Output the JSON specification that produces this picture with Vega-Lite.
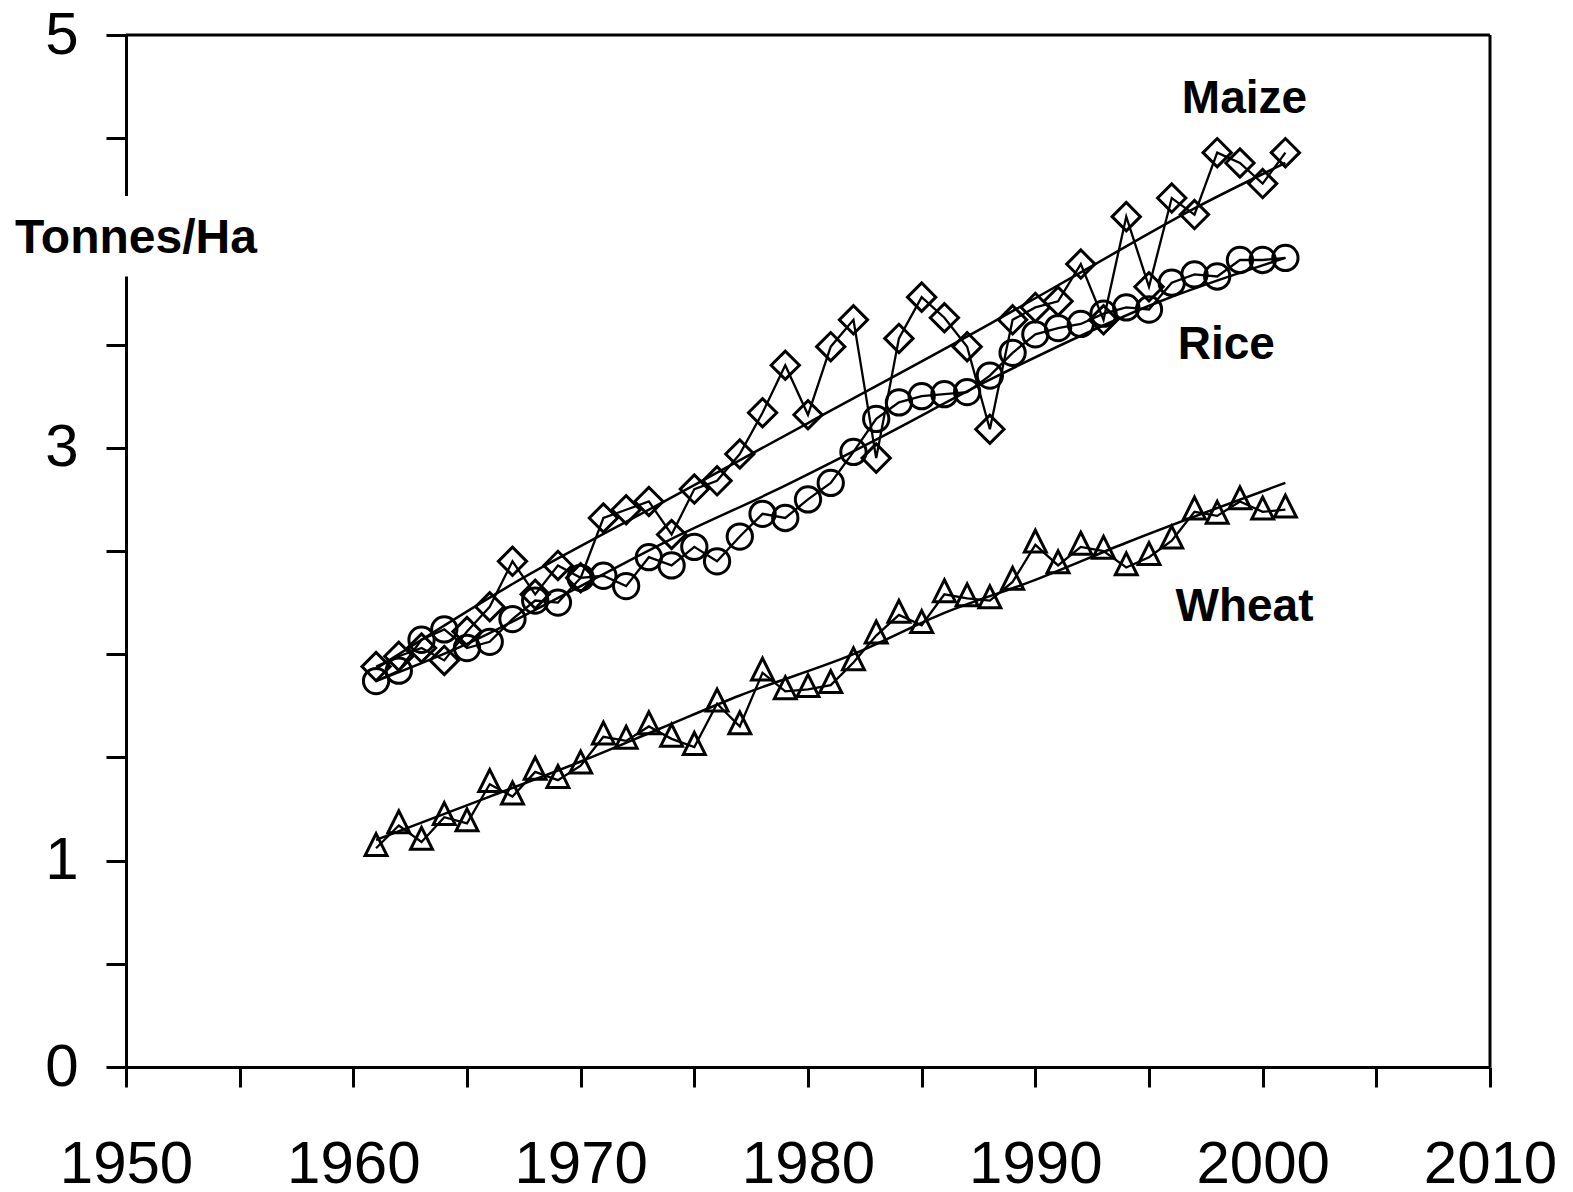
{
  "$schema": "https://vega.github.io/schema/vega-lite/v6.json",
  "autosize": {"type": "none"},
  "padding": {"left": 126, "top": 35, "right": 83, "bottom": 125},
  "width": 1364,
  "height": 1032,
  "background": "white",
  "config": {
    "view": {"stroke": null},
    "font": "Liberation Sans",
    "axis": {
      "grid": false,
      "domainColor": "black",
      "domainWidth": 3,
      "tickColor": "black",
      "tickWidth": 3,
      "tickSize": 20,
      "labelColor": "black",
      "labelFont": "Liberation Sans",
      "labelFontSize": 60,
      "labelOverlap": false,
      "labelFlush": false,
      "labelBound": false,
      "title": null,
      "zindex": 0
    }
  },
  "datasets": {
    "yields": [
      {"crop": "Maize", "year": 1961, "t": 1.94},
      {"crop": "Maize", "year": 1962, "t": 1.99},
      {"crop": "Maize", "year": 1963, "t": 2.03},
      {"crop": "Maize", "year": 1964, "t": 1.97},
      {"crop": "Maize", "year": 1965, "t": 2.11},
      {"crop": "Maize", "year": 1966, "t": 2.23},
      {"crop": "Maize", "year": 1967, "t": 2.45},
      {"crop": "Maize", "year": 1968, "t": 2.29},
      {"crop": "Maize", "year": 1969, "t": 2.43},
      {"crop": "Maize", "year": 1970, "t": 2.37},
      {"crop": "Maize", "year": 1971, "t": 2.66},
      {"crop": "Maize", "year": 1972, "t": 2.70},
      {"crop": "Maize", "year": 1973, "t": 2.74},
      {"crop": "Maize", "year": 1974, "t": 2.58},
      {"crop": "Maize", "year": 1975, "t": 2.80},
      {"crop": "Maize", "year": 1976, "t": 2.84},
      {"crop": "Maize", "year": 1977, "t": 2.97},
      {"crop": "Maize", "year": 1978, "t": 3.17},
      {"crop": "Maize", "year": 1979, "t": 3.40},
      {"crop": "Maize", "year": 1980, "t": 3.16},
      {"crop": "Maize", "year": 1981, "t": 3.49},
      {"crop": "Maize", "year": 1982, "t": 3.62},
      {"crop": "Maize", "year": 1983, "t": 2.95},
      {"crop": "Maize", "year": 1984, "t": 3.53},
      {"crop": "Maize", "year": 1985, "t": 3.73},
      {"crop": "Maize", "year": 1986, "t": 3.63},
      {"crop": "Maize", "year": 1987, "t": 3.49},
      {"crop": "Maize", "year": 1988, "t": 3.09},
      {"crop": "Maize", "year": 1989, "t": 3.62},
      {"crop": "Maize", "year": 1990, "t": 3.68},
      {"crop": "Maize", "year": 1991, "t": 3.71},
      {"crop": "Maize", "year": 1992, "t": 3.89},
      {"crop": "Maize", "year": 1993, "t": 3.62},
      {"crop": "Maize", "year": 1994, "t": 4.12},
      {"crop": "Maize", "year": 1995, "t": 3.78},
      {"crop": "Maize", "year": 1996, "t": 4.21},
      {"crop": "Maize", "year": 1997, "t": 4.13},
      {"crop": "Maize", "year": 1998, "t": 4.43},
      {"crop": "Maize", "year": 1999, "t": 4.38},
      {"crop": "Maize", "year": 2000, "t": 4.28},
      {"crop": "Maize", "year": 2001, "t": 4.43},
      {"crop": "Rice", "year": 1961, "t": 1.87},
      {"crop": "Rice", "year": 1962, "t": 1.92},
      {"crop": "Rice", "year": 1963, "t": 2.07},
      {"crop": "Rice", "year": 1964, "t": 2.12},
      {"crop": "Rice", "year": 1965, "t": 2.03},
      {"crop": "Rice", "year": 1966, "t": 2.06},
      {"crop": "Rice", "year": 1967, "t": 2.17},
      {"crop": "Rice", "year": 1968, "t": 2.26},
      {"crop": "Rice", "year": 1969, "t": 2.25},
      {"crop": "Rice", "year": 1970, "t": 2.37},
      {"crop": "Rice", "year": 1971, "t": 2.38},
      {"crop": "Rice", "year": 1972, "t": 2.33},
      {"crop": "Rice", "year": 1973, "t": 2.47},
      {"crop": "Rice", "year": 1974, "t": 2.43},
      {"crop": "Rice", "year": 1975, "t": 2.52},
      {"crop": "Rice", "year": 1976, "t": 2.45},
      {"crop": "Rice", "year": 1977, "t": 2.57},
      {"crop": "Rice", "year": 1978, "t": 2.68},
      {"crop": "Rice", "year": 1979, "t": 2.66},
      {"crop": "Rice", "year": 1980, "t": 2.75},
      {"crop": "Rice", "year": 1981, "t": 2.83},
      {"crop": "Rice", "year": 1982, "t": 2.98},
      {"crop": "Rice", "year": 1983, "t": 3.14},
      {"crop": "Rice", "year": 1984, "t": 3.22},
      {"crop": "Rice", "year": 1985, "t": 3.25},
      {"crop": "Rice", "year": 1986, "t": 3.26},
      {"crop": "Rice", "year": 1987, "t": 3.27},
      {"crop": "Rice", "year": 1988, "t": 3.35},
      {"crop": "Rice", "year": 1989, "t": 3.46},
      {"crop": "Rice", "year": 1990, "t": 3.55},
      {"crop": "Rice", "year": 1991, "t": 3.58},
      {"crop": "Rice", "year": 1992, "t": 3.60},
      {"crop": "Rice", "year": 1993, "t": 3.65},
      {"crop": "Rice", "year": 1994, "t": 3.68},
      {"crop": "Rice", "year": 1995, "t": 3.67},
      {"crop": "Rice", "year": 1996, "t": 3.80},
      {"crop": "Rice", "year": 1997, "t": 3.84},
      {"crop": "Rice", "year": 1998, "t": 3.83},
      {"crop": "Rice", "year": 1999, "t": 3.91},
      {"crop": "Rice", "year": 2000, "t": 3.91},
      {"crop": "Rice", "year": 2001, "t": 3.92},
      {"crop": "Wheat", "year": 1961, "t": 1.06},
      {"crop": "Wheat", "year": 1962, "t": 1.17},
      {"crop": "Wheat", "year": 1963, "t": 1.09},
      {"crop": "Wheat", "year": 1964, "t": 1.21},
      {"crop": "Wheat", "year": 1965, "t": 1.18},
      {"crop": "Wheat", "year": 1966, "t": 1.37},
      {"crop": "Wheat", "year": 1967, "t": 1.31},
      {"crop": "Wheat", "year": 1968, "t": 1.43},
      {"crop": "Wheat", "year": 1969, "t": 1.39},
      {"crop": "Wheat", "year": 1970, "t": 1.46},
      {"crop": "Wheat", "year": 1971, "t": 1.60},
      {"crop": "Wheat", "year": 1972, "t": 1.58},
      {"crop": "Wheat", "year": 1973, "t": 1.65},
      {"crop": "Wheat", "year": 1974, "t": 1.59},
      {"crop": "Wheat", "year": 1975, "t": 1.55},
      {"crop": "Wheat", "year": 1976, "t": 1.76},
      {"crop": "Wheat", "year": 1977, "t": 1.65},
      {"crop": "Wheat", "year": 1978, "t": 1.91},
      {"crop": "Wheat", "year": 1979, "t": 1.82},
      {"crop": "Wheat", "year": 1980, "t": 1.83},
      {"crop": "Wheat", "year": 1981, "t": 1.85},
      {"crop": "Wheat", "year": 1982, "t": 1.96},
      {"crop": "Wheat", "year": 1983, "t": 2.09},
      {"crop": "Wheat", "year": 1984, "t": 2.19},
      {"crop": "Wheat", "year": 1985, "t": 2.14},
      {"crop": "Wheat", "year": 1986, "t": 2.29},
      {"crop": "Wheat", "year": 1987, "t": 2.27},
      {"crop": "Wheat", "year": 1988, "t": 2.26},
      {"crop": "Wheat", "year": 1989, "t": 2.35},
      {"crop": "Wheat", "year": 1990, "t": 2.53},
      {"crop": "Wheat", "year": 1991, "t": 2.43},
      {"crop": "Wheat", "year": 1992, "t": 2.52},
      {"crop": "Wheat", "year": 1993, "t": 2.50},
      {"crop": "Wheat", "year": 1994, "t": 2.42},
      {"crop": "Wheat", "year": 1995, "t": 2.47},
      {"crop": "Wheat", "year": 1996, "t": 2.55},
      {"crop": "Wheat", "year": 1997, "t": 2.69},
      {"crop": "Wheat", "year": 1998, "t": 2.67},
      {"crop": "Wheat", "year": 1999, "t": 2.74},
      {"crop": "Wheat", "year": 2000, "t": 2.69},
      {"crop": "Wheat", "year": 2001, "t": 2.70}
    ],
    "trend": [
      {"crop": "Maize", "year": 1961, "t": 1.93},
      {"crop": "Maize", "year": 1967, "t": 2.34},
      {"crop": "Maize", "year": 1973.5, "t": 2.73},
      {"crop": "Maize", "year": 1980, "t": 3.12},
      {"crop": "Maize", "year": 1988, "t": 3.60},
      {"crop": "Maize", "year": 1992, "t": 3.85},
      {"crop": "Maize", "year": 1997, "t": 4.16},
      {"crop": "Maize", "year": 2001, "t": 4.38},
      {"crop": "Rice", "year": 1961, "t": 1.87},
      {"crop": "Rice", "year": 1965, "t": 2.05},
      {"crop": "Rice", "year": 1970, "t": 2.33},
      {"crop": "Rice", "year": 1974.4, "t": 2.58},
      {"crop": "Rice", "year": 1978.3, "t": 2.78},
      {"crop": "Rice", "year": 1983, "t": 3.04},
      {"crop": "Rice", "year": 1988, "t": 3.33},
      {"crop": "Rice", "year": 1995.5, "t": 3.71},
      {"crop": "Rice", "year": 2001, "t": 3.92},
      {"crop": "Wheat", "year": 1961, "t": 1.10},
      {"crop": "Wheat", "year": 1966, "t": 1.31},
      {"crop": "Wheat", "year": 1970, "t": 1.48},
      {"crop": "Wheat", "year": 1973.5, "t": 1.64},
      {"crop": "Wheat", "year": 1977, "t": 1.80},
      {"crop": "Wheat", "year": 1982, "t": 2.00},
      {"crop": "Wheat", "year": 1986, "t": 2.20},
      {"crop": "Wheat", "year": 1990, "t": 2.36},
      {"crop": "Wheat", "year": 1994, "t": 2.54},
      {"crop": "Wheat", "year": 2001, "t": 2.83}
    ],
    "labels": [
      {"text": "Maize", "year": 1999.2, "t": 4.69, "size": 46},
      {"text": "Rice", "year": 1998.4, "t": 3.50, "size": 46},
      {"text": "Wheat", "year": 1999.2, "t": 2.23, "size": 46},
      {"text": "Tonnes/Ha", "year": 1950.44, "t": 4.01, "size": 48}
    ]
  },
  "encoding": {
    "x": {
      "field": "year",
      "type": "quantitative",
      "scale": {"domain": [1950, 2010], "nice": false, "zero": false},
      "axis": {
        "values": [1950, 1955, 1960, 1965, 1970, 1975, 1980, 1985, 1990, 1995, 2000, 2005, 2010],
        "format": "d",
        "labelExpr": "datum.value % 10 == 0 ? datum.label : ''",
        "labelPadding": 48
      }
    },
    "y": {
      "field": "t",
      "type": "quantitative",
      "scale": {"domain": [0, 5], "nice": false, "zero": false},
      "axis": {
        "values": [0, 0.5, 1, 1.5, 2, 2.5, 3, 3.5, 4, 4.5, 5],
        "format": "~g",
        "labelExpr": "(datum.value == 0 || datum.value == 1 || datum.value == 3 || datum.value == 5) ? datum.label : ''",
        "labelPadding": 28
      }
    }
  },
  "layer": [
    {
      "data": {"values": [{"x1": 1948.8, "x2": 1950.5, "y1": 3.83, "y2": 4.22}]},
      "mark": {"type": "rect", "fill": "white", "stroke": null},
      "encoding": {
        "x": {"field": "x1", "type": "quantitative"},
        "x2": {"field": "x2"},
        "y": {"field": "y1", "type": "quantitative"},
        "y2": {"field": "y2"}
      }
    },
    {
      "data": {"name": "trend"},
      "mark": {"type": "line", "color": "black", "strokeWidth": 2.5, "interpolate": "monotone"},
      "encoding": {"detail": {"field": "crop"}}
    },
    {
      "data": {"name": "yields"},
      "mark": {"type": "line", "color": "black", "strokeWidth": 2.3},
      "encoding": {"detail": {"field": "crop"}}
    },
    {
      "data": {"name": "yields"},
      "mark": {"type": "point", "filled": false, "stroke": "black", "strokeWidth": 3, "opacity": 1},
      "encoding": {
        "shape": {
          "field": "crop",
          "type": "nominal",
          "scale": {"domain": ["Maize", "Rice", "Wheat"], "range": ["diamond", "circle", "M0,-1.333L1,0.667L-1,0.667Z"]},
          "legend": null
        },
        "size": {
          "field": "crop",
          "type": "nominal",
          "scale": {"domain": ["Maize", "Rice", "Wheat"], "range": [800, 480, 1000]},
          "legend": null
        }
      }
    },
    {
      "data": {"name": "labels"},
      "mark": {"type": "text", "font": "Liberation Sans", "fontWeight": "bold", "color": "black", "align": "center", "baseline": "middle"},
      "encoding": {
        "text": {"field": "text"},
        "size": {"field": "size", "type": "quantitative", "scale": null}
      }
    },
    {
      "data": {"values": [{"x1": 1950, "x2": 2010, "y1": 5, "y2": 5}, {"x1": 2010, "x2": 2010, "y1": 0, "y2": 5}]},
      "mark": {"type": "rule", "color": "black", "strokeWidth": 3},
      "encoding": {
        "x": {"field": "x1", "type": "quantitative"},
        "x2": {"field": "x2"},
        "y": {"field": "y1", "type": "quantitative"},
        "y2": {"field": "y2"}
      }
    }
  ]
}
